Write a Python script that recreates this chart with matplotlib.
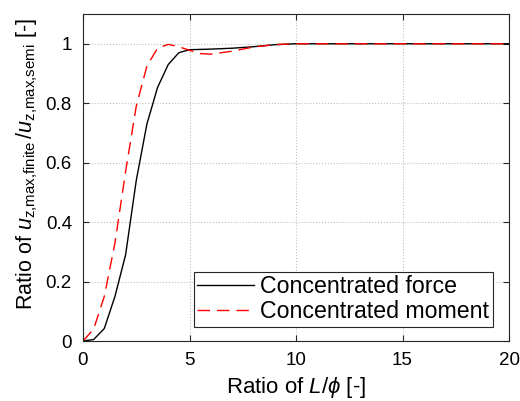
import numpy as np
import matplotlib
matplotlib.use('Agg')
import matplotlib.pyplot as plt

plt.rcParams['font.family'] = ['Liberation Sans', 'DejaVu Sans']
plt.rcParams['mathtext.fontset'] = 'custom'
plt.rcParams['mathtext.rm'] = 'Liberation Sans'
plt.rcParams['mathtext.it'] = 'Liberation Sans:italic'

# L/phi ratio samples and normalised max vertical displacement
ratio = [0, 0.5, 1.0, 1.5, 2.0, 2.5, 3.0, 3.5, 4.0, 4.5, 5.0, 5.5, 6, 7, 8, 9, 10,
         12, 14, 16, 18, 20]
u_force = [0, 0.005, 0.042, 0.15, 0.29, 0.54, 0.73, 0.853, 0.93, 0.97, 0.98, 0.981,
           0.982, 0.985, 0.99, 0.997, 1.0, 1.0, 1.0, 1.0, 1.0, 1.0]
u_moment = [0, 0.04, 0.15, 0.33, 0.57, 0.79, 0.925, 0.985, 0.998, 0.99, 0.978, 0.967,
            0.965, 0.975, 0.989, 0.997, 1.0, 1.0, 1.0, 1.0, 1.0, 1.0]

fig = plt.figure(figsize=(5.2, 4.01), dpi=100)
ax = fig.add_axes([0.1596, 0.1496, 0.8194, 0.8154])

ax.plot(ratio, u_force, '-', color='black', lw=1.0, label='Concentrated force')
ax.plot(ratio, u_moment, '--', color='red', lw=1.0, dashes=(9, 5),
        label='Concentrated moment')

ax.set_xlim(0, 20)
ax.set_ylim(0, 1.1)
ax.set_xticks([0, 5, 10, 15, 20])
ax.set_yticks([0, 0.2, 0.4, 0.6, 0.8, 1.0])
ax.set_yticklabels(['0', '0.2', '0.4', '0.6', '0.8', '1'])
ax.grid(True, color='#bfbfbf', linestyle=':', lw=0.8)
ax.tick_params(direction='in', top=True, right=True, labelsize=13.5,
               length=4, color='#262626', pad=8)
for s in ax.spines.values():
    s.set_color('#262626')
    s.set_linewidth(0.8)

ax.set_xlabel(r'Ratio of $L/\phi$ [-]', fontsize=16)
ax.set_ylabel(r'Ratio of $u_{\mathrm{z{,}max{,}finite}}\,/u_{\mathrm{z{,}max{,}semi}}$ [-]',
              fontsize=15.5)
ax.yaxis.label.set_y(0.54)

leg = ax.legend(loc='lower right', bbox_to_anchor=(0.962, 0.043), fontsize=16.7,
                fancybox=False, framealpha=1, edgecolor='#262626',
                handlelength=2.46, borderpad=0.15, labelspacing=0.1,
                handletextpad=0.26, borderaxespad=0)
leg.get_frame().set_linewidth(0.8)

fig.savefig('out.png', dpi=100)
